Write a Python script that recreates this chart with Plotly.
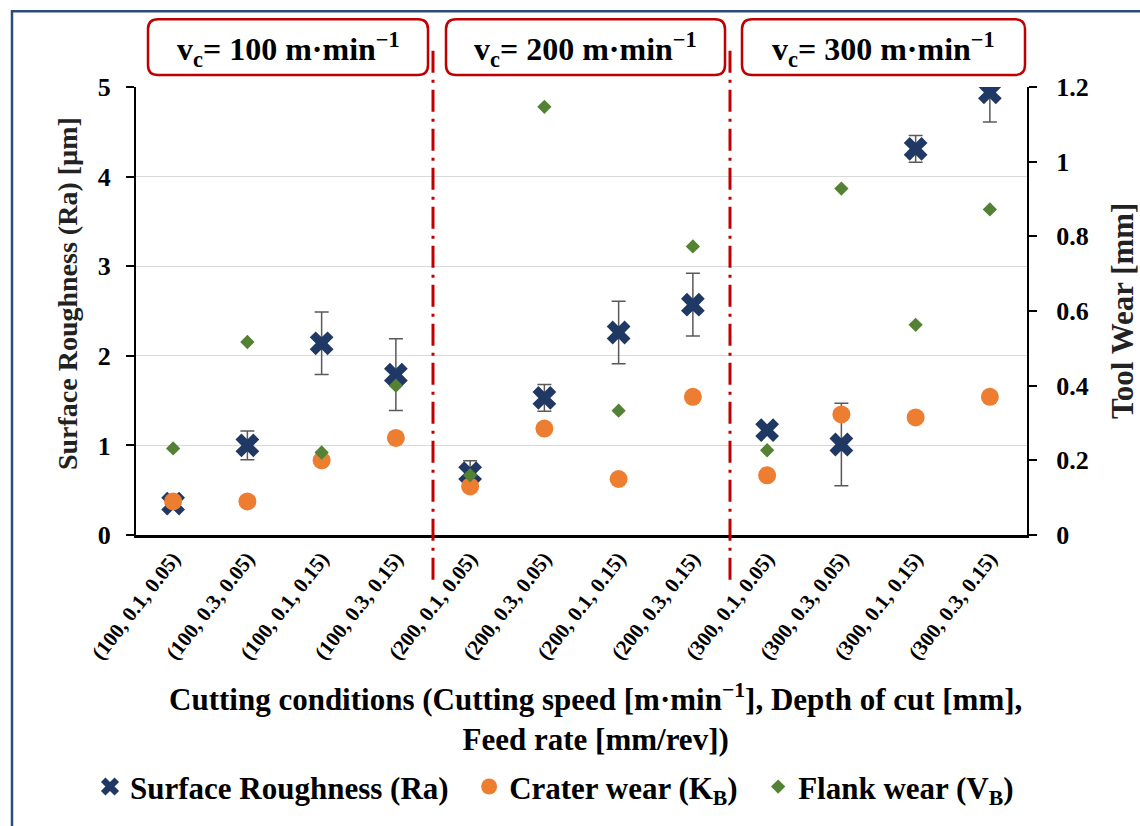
import plotly.graph_objects as go

categories = ["(100, 0.1, 0.05)", "(100, 0.3, 0.05)", "(100, 0.1, 0.15)", "(100, 0.3, 0.15)",
              "(200, 0.1, 0.05)", "(200, 0.3, 0.05)", "(200, 0.1, 0.15)", "(200, 0.3, 0.15)",
              "(300, 0.1, 0.05)", "(300, 0.3, 0.05)", "(300, 0.1, 0.15)", "(300, 0.3, 0.15)"]
ra = [0.35, 1.0, 2.14, 1.79, 0.69, 1.53, 2.26, 2.57, 1.17, 1.01, 4.31, 4.94]
ra_err = [0.05, 0.16, 0.35, 0.40, 0.14, 0.15, 0.35, 0.35, 0.05, 0.46, 0.15, 0.33]
crater = [0.09, 0.09, 0.20, 0.26, 0.13, 0.285, 0.15, 0.37, 0.16, 0.323, 0.315, 0.37]
flank = [0.232, 0.517, 0.221, 0.40, 0.16, 1.147, 0.333, 0.773, 0.227, 0.928, 0.563, 0.872]
speed_labels = ["v<sub>c</sub>= 100 m·min<sup>−1</sup>", "v<sub>c</sub>= 200 m·min<sup>−1</sup>",
                "v<sub>c</sub>= 300 m·min<sup>−1</sup>"]
series_names = ["Surface Roughness (Ra)", "Crater wear (K<sub>B</sub>)", "Flank wear (V<sub>B</sub>)"]

FONT = "Liberation Serif, Times New Roman, serif"
L, R, T, B = 136, 1027, 87, 537
W, H = R - L, B - T
PAD = "\u00a0\u00a0"


def px(x):
    return (x - L) / W


def py(y):
    return (B - y) / H


fig = go.Figure()
fig.add_trace(go.Scatter(
    x=categories, y=ra, mode="markers", name=series_names[0] + PAD,
    marker=dict(symbol="x", size=21, color="#1F3864", line=dict(width=0)),
    error_y=dict(type="data", array=ra_err, color="#595959", thickness=1.5, width=7),
    yaxis="y"))
fig.add_trace(go.Scatter(
    x=categories, y=crater, mode="markers", name=series_names[1] + PAD,
    marker=dict(symbol="circle", size=18, color="#ED7D31"), yaxis="y2"))
fig.add_trace(go.Scatter(
    x=categories, y=flank, mode="markers", name=series_names[2],
    marker=dict(symbol="diamond", size=11, color="#548235"), yaxis="y2"))

shapes = []
# outer border
shapes.append(dict(type="rect", xref="paper", yref="paper", x0=px(12), x1=px(1160), y0=py(850), y1=py(11),
                   line=dict(color="#2F4B7C", width=2.5), fillcolor="rgba(0,0,0,0)", layer="below"))
# dashed separators
for xv in [3.5, 7.5]:
    shapes.append(dict(type="line", xref="x", yref="paper", x0=xv, x1=xv, y0=py(582), y1=py(50),
                       line=dict(color="#C00000", width=3, dash="22px,7px,3px,7px")))


def rounded_box(x0, y0, x1, y1, r=10):
    rx, ry = r / W, r / H
    a0, a1, b0, b1 = px(x0), px(x1), py(y1), py(y0)
    return (f"M {a0+rx} {b1} L {a1-rx} {b1} Q {a1} {b1} {a1} {b1-ry} "
            f"L {a1} {b0+ry} Q {a1} {b0} {a1-rx} {b0} L {a0+rx} {b0} "
            f"Q {a0} {b0} {a0} {b0+ry} L {a0} {b1-ry} Q {a0} {b1} {a0+rx} {b1} Z")


boxes = [(148, 19, 428), (446, 19, 725), (742, 19, 1025)]
annotations = []
for (bx0, by0, bx1), lab in zip(boxes, speed_labels):
    shapes.append(dict(type="path", xref="paper", yref="paper", path=rounded_box(bx0, by0, bx1, 75),
                       line=dict(color="#C00000", width=2.5), fillcolor="white"))
    annotations.append(dict(xref="paper", yref="paper", x=px((bx0 + bx1) / 2), y=py(49), text=lab,
                            showarrow=False, xanchor="center", yanchor="middle",
                            font=dict(family=FONT, size=32, color="black", weight="bold")))

annotations.append(dict(xref="paper", yref="paper", x=px(67), y=py(295), text="Surface Roughness (Ra) [µm]",
                        textangle=-90, showarrow=False, xanchor="center", yanchor="middle",
                        font=dict(family=FONT, size=28, color="#222", weight="bold")))
annotations.append(dict(xref="paper", yref="paper", x=px(1122), y=py(312), text="Tool Wear [mm]",
                        textangle=-90, showarrow=False, xanchor="center", yanchor="middle",
                        font=dict(family=FONT, size=31, color="#222", weight="bold")))
annotations.append(dict(xref="paper", yref="paper", x=px(595), y=py(720),
                        text="Cutting conditions (Cutting speed [m·min<sup>−1</sup>], Depth of cut [mm],<br>Feed rate [mm/rev])",
                        showarrow=False, xanchor="center", yanchor="middle",
                        font=dict(family=FONT, size=31, color="black", weight="bold")))

fig.update_layout(
    width=1140, height=826, autosize=False,
    margin=dict(l=L, r=1140 - R, t=T, b=826 - B),
    paper_bgcolor="white", plot_bgcolor="white",
    font=dict(family=FONT, color="black", weight="bold"),
    showlegend=True,
    legend=dict(orientation="h", x=px(90), y=py(790), xanchor="left", yanchor="middle",
                font=dict(family=FONT, size=31, color="black", weight="bold"),
                bgcolor="rgba(0,0,0,0)", itemwidth=30, tracegroupgap=0),
    xaxis=dict(type="category", range=[-0.5, 11.5], showline=True, linecolor="black", linewidth=3,
               ticks="", showgrid=False, zeroline=False, tickangle=-52,
               tickfont=dict(family=FONT, size=21, color="black", weight="bold"), automargin=False),
    yaxis=dict(range=[0, 5], dtick=1, showline=True, linecolor="black", linewidth=2,
               ticks="outside", ticklen=8, tickwidth=2, tickcolor="black",
               showgrid=True, gridcolor="#D9D9D9", gridwidth=1, zeroline=False,
               tickfont=dict(family=FONT, size=26, color="black", weight="bold"),
               ticklabelstandoff=10, automargin=False),
    yaxis2=dict(range=[0, 1.2], dtick=0.2, overlaying="y", side="right", showline=True,
                linecolor="black", linewidth=2, ticks="outside", ticklen=8, tickwidth=2,
                tickcolor="black", showgrid=False, zeroline=False,
                tickvals=[0, 0.2, 0.4, 0.6, 0.8, 1.0, 1.2],
                ticktext=["0", "0.2", "0.4", "0.6", "0.8", "1", "1.2"],
                tickfont=dict(family=FONT, size=26, color="black", weight="bold"),
                ticklabelstandoff=14, automargin=False),
    shapes=shapes, annotations=annotations,
)

fig.write_html("out.html")
